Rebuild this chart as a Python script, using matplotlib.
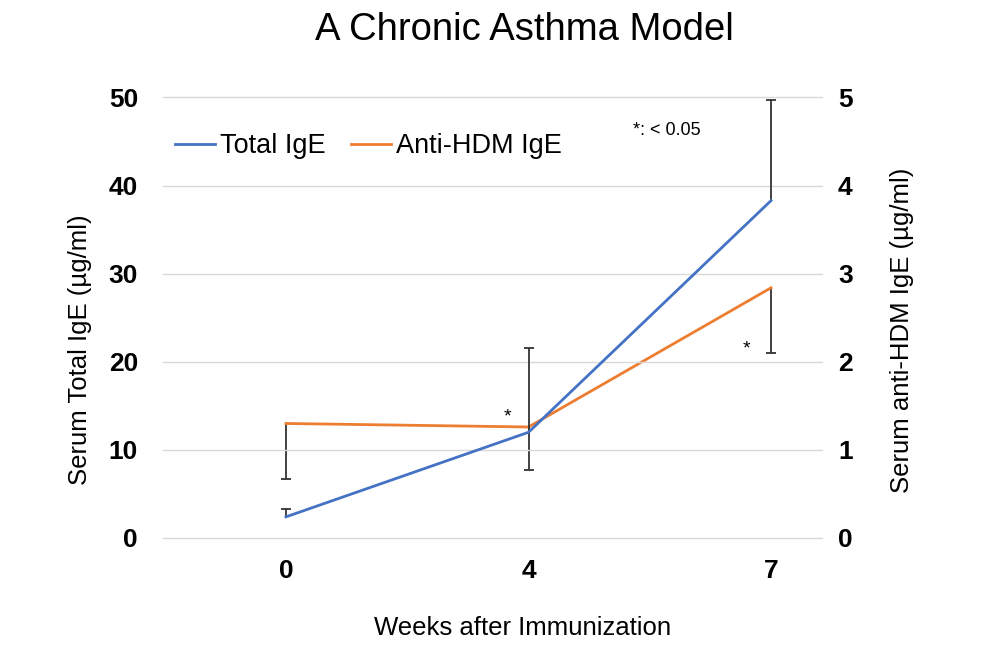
import matplotlib
matplotlib.use("Agg")
import matplotlib.pyplot as plt
from matplotlib.lines import Line2D

plt.rcParams['font.family'] = ['Liberation Sans', 'DejaVu Sans']

weeks = ["0", "4", "7"]
total_ige = [2.4, 12.0, 38.3]
total_err_low = [0.0, 0.0, 0.0]
total_err_high = [0.9, 9.6, 11.4]
hdm_ige = [1.30, 1.26, 2.84]
hdm_err_low = [0.63, 0.49, 0.74]
hdm_err_high = [0.0, 0.0, 0.0]

blue = "#4472C4"
orange = "#ED7D31"
ecol = "#333333"

fig = plt.figure(figsize=(10, 6.61), dpi=100)
ax = fig.add_axes([0.163, 0.1861, 0.659, 0.6664])
ax2 = ax.twinx()

x = list(range(len(weeks)))


def one_sided_errorbars(a, xs, ys, lows, highs):
    bottoms = [y - l for y, l in zip(ys, lows)]
    tops = [y + h for y, h in zip(ys, highs)]
    a.vlines(xs, bottoms, tops, colors=ecol, lw=1.3, zorder=3)
    cx = [xi for xi, h in zip(xs, highs) if h > 0]
    cy = [t for t, h in zip(tops, highs) if h > 0]
    a.plot(cx, cy, ls='none', marker='_', ms=7, mew=1.3, color=ecol, zorder=3)
    cx = [xi for xi, l in zip(xs, lows) if l > 0]
    cy = [b for b, l in zip(bottoms, lows) if l > 0]
    a.plot(cx, cy, ls='none', marker='_', ms=7, mew=1.3, color=ecol, zorder=3)


one_sided_errorbars(ax, x, total_ige, total_err_low, total_err_high)
one_sided_errorbars(ax2, x, hdm_ige, hdm_err_low, hdm_err_high)
ax2.plot(x, hdm_ige, color=orange, lw=2.0, zorder=4)
ax.plot(x, total_ige, color=blue, lw=2.0, zorder=4)
ax.set_zorder(ax2.get_zorder() + 1)
ax.patch.set_visible(False)

ax.set_xlim(-0.507, 2.21)
ax.set_ylim(0, 50)
ax2.set_ylim(0, 5)
ax.set_yticks([0, 10, 20, 30, 40, 50])
ax2.set_yticks([0, 1, 2, 3, 4, 5])
ax.set_xticks(x)
ax.set_xticklabels(weeks)

ax.grid(axis='y', color='#d9d9d9', lw=1.0)
for gl in ax.get_ygridlines():
    gl.set_clip_on(False)
ax.set_axisbelow(True)
for a in (ax, ax2):
    for s in a.spines.values():
        s.set_visible(False)
    a.tick_params(length=0)

ax.tick_params(axis='y', pad=18, labelsize=19)
ax2.tick_params(axis='y', pad=11.5, labelsize=19)
ax.tick_params(axis='x', pad=15, labelsize=19)
for lab in ax.get_yticklabels() + ax2.get_yticklabels() + ax.get_xticklabels():
    lab.set_fontweight('bold')

fig.text(0.080, 0.4705, "Serum Total IgE (µg/ml)", fontsize=18.5, rotation=90,
         ha='center', va='center')
fig.text(0.902, 0.500, "Serum anti-HDM IgE (µg/ml)", fontsize=18.5, rotation=90,
         ha='center', va='center')
fig.text(0.5225, 0.0393, "Weeks after Immunization", fontsize=18.5,
         ha='center', va='baseline')

fig.text(0.524, 0.9395, "A Chronic Asthma Model", ha='center', va='baseline', fontsize=27.5)

ax.text(1.431, 46.2, "*: < 0.05", fontsize=13, ha='left', va='center')
ax.text(0.915, 13.7, "*", fontsize=14, ha='center', va='center')
ax.text(1.897, 21.5, "*", fontsize=14, ha='center', va='center')

handles = [Line2D([], [], color=blue, lw=2.0), Line2D([], [], color=orange, lw=2.0)]
fig.legend(handles, ["Total IgE", "Anti-HDM IgE"], loc='center left',
           bbox_to_anchor=(0.175, 0.779), ncol=2, frameon=False, fontsize=19.5,
           handlelength=1.48, handletextpad=0.2, columnspacing=0.9,
           borderpad=0, borderaxespad=0)

fig.savefig("out.png", dpi=100)
